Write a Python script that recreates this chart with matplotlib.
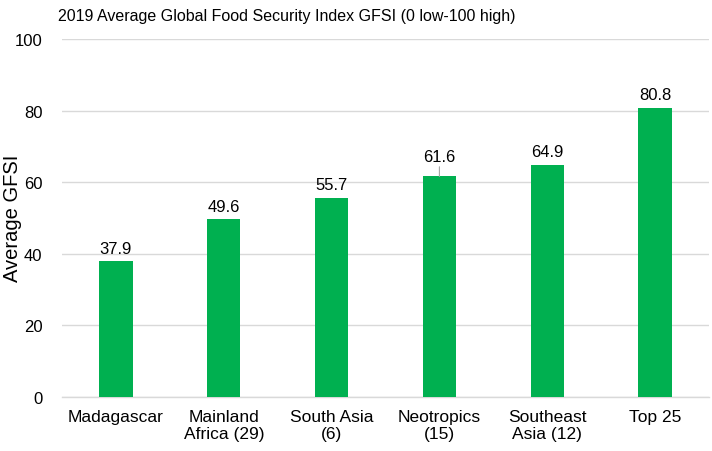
import matplotlib
matplotlib.use("Agg")
import matplotlib.pyplot as plt

categories = ["Madagascar", "Mainland\nAfrica (29)", "South Asia\n(6)", "Neotropics\n(15)", "Southeast\nAsia (12)", "Top 25"]
values = [37.9, 49.6, 55.7, 61.6, 64.9, 80.8]
yticks = [0, 20, 40, 60, 80, 100]

plt.rcParams['font.family'] = ['Liberation Sans', 'DejaVu Sans']

fig = plt.figure(figsize=(7.12, 4.52), dpi=100)
ax = fig.add_axes([62/712, 1-398/452, 647/712, 358/452])

x = list(range(len(categories)))
bars = ax.bar(x, values, width=0.31, color="#00B050", zorder=3)

ax.set_ylim(0, 100)
ax.set_xlim(-0.5, len(categories)-0.5)
ax.set_yticks(yticks)
ax.set_xticks(x)
ax.set_xticklabels(categories, fontsize=12.5, linespacing=1.15)
ax.tick_params(axis='y', labelsize=12, length=0, pad=14)
ax.tick_params(axis='x', length=0, pad=9)
ax.grid(axis='y', color="#d9d9d9", linewidth=1, zorder=0)
for s in ['top', 'right', 'left']:
    ax.spines[s].set_visible(False)
ax.spines['bottom'].set_color("#d9d9d9")
ax.spines['bottom'].set_linewidth(1)

for xi, v in zip(x, values):
    if abs(v - 61.6) < 1e-9:
        ax.annotate(f"{v:.1f}", xy=(xi, v), xytext=(0, 9), textcoords="offset points",
                    ha="center", va="bottom", fontsize=12,
                    arrowprops=dict(arrowstyle="-", color="#a6a6a6", lw=0.8, shrinkA=0, shrinkB=0))
    else:
        ax.annotate(f"{v:.1f}", xy=(xi, v), xytext=(0, 4), textcoords="offset points",
                    ha="center", va="bottom", fontsize=12)

ax.set_ylabel("Average GFSI", fontsize=14.5)
ax.yaxis.set_label_coords((22 - 62)/647, (398 - 218)/358)
fig.text(58/712, 1-17/452, "2019 Average Global Food Security Index GFSI (0 low-100 high)",
         fontsize=11.5, ha="left", va="center")

fig.savefig("out.png", dpi=100)
